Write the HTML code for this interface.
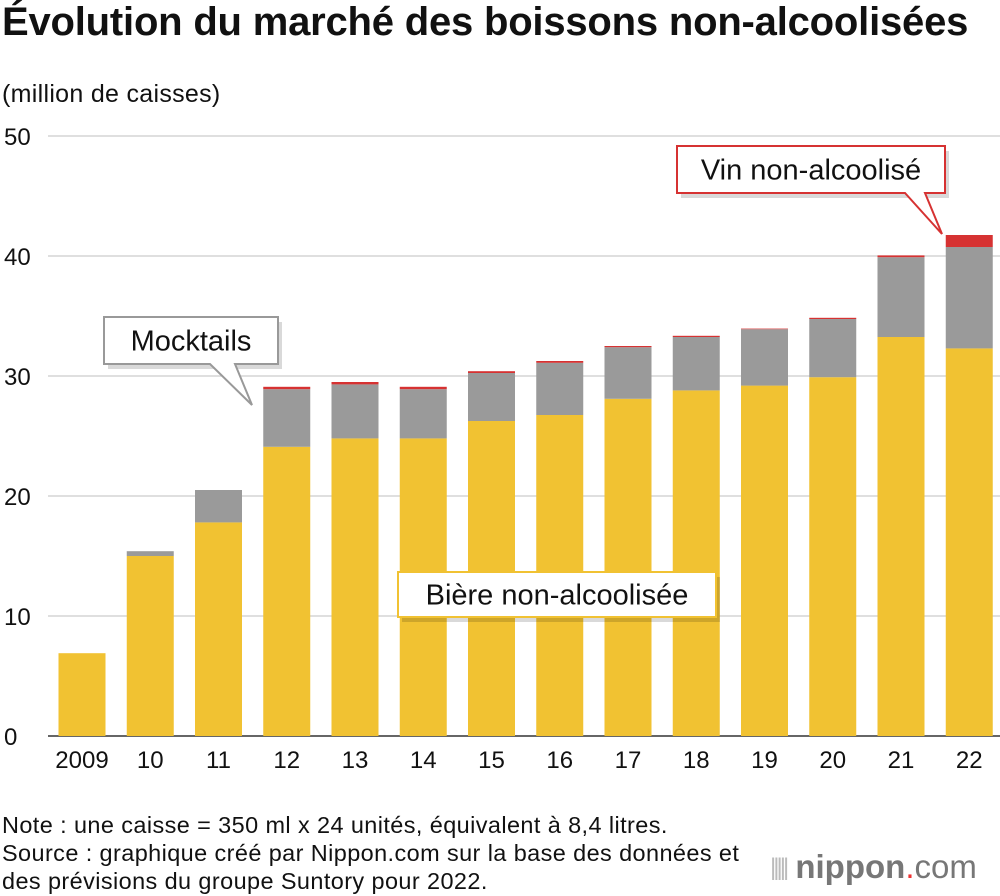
<!DOCTYPE html>
<html><head><meta charset="utf-8"><style>
body{margin:0;background:#fff;font-family:"Liberation Sans",sans-serif;}
#w{position:relative;width:1000px;height:896px;overflow:hidden;}
.t{position:absolute;white-space:nowrap;color:#111;}
</style></head><body><div id="w">
<div class="t" style="left:2px;top:0px;font-size:40px;font-weight:bold;letter-spacing:-0.2px">Évolution du marché des boissons non-alcoolisées</div>
<div class="t" style="left:2px;top:80px;font-size:25px;letter-spacing:0.3px">(million de caisses)</div>
<svg id="c" width="1000" height="896" style="position:absolute;left:0;top:0"></svg>
<div class="t" style="left:2px;top:811px;font-size:23px;line-height:28px;letter-spacing:0.4px;transform:scaleX(1.02);transform-origin:0 0">Note : une caisse = 350 ml x 24 unités, équivalent à 8,4 litres.<br>Source : graphique créé par Nippon.com sur la base des données et<br>des prévisions du groupe Suntory pour 2022.</div>
<div class="t" style="left:770px;top:848px;font-size:33px;color:#777;"><span style="color:#bbb;font-size:24px;letter-spacing:-3px;vertical-align:3px">|||||</span> <b>nippon</b><span style="color:#e33">.</span>com</div>
</div>
<script>
const categories=["2009","10","11","12","13","14","15","16","17","18","19","20","21","22"];
const beer=[6.9,15.0,17.8,24.1,24.8,24.8,26.25,26.75,28.1,28.8,29.2,29.9,33.25,32.3];
const mocktails=[0,0.4,2.7,4.8,4.5,4.1,4.0,4.35,4.3,4.45,4.7,4.85,6.65,8.45];
const wine=[0,0,0,0.2,0.2,0.2,0.15,0.15,0.1,0.1,0.05,0.1,0.15,1.0];
const yTicks=[0,10,20,30,40,50];
const NS="http://www.w3.org/2000/svg";
const svg=document.getElementById('c');
const y=v=>736-v*12;
const x=i=>82+i*68.25;
function el(t,a,p){const e=document.createElementNS(NS,t);for(const k in a)e.setAttribute(k,a[k]);(p||svg).appendChild(e);return e;}
yTicks.forEach(v=>{
 const l=el('line',{x1:48,x2:1000,y1:y(v),y2:y(v),stroke:v===0?'#333':'#ccc','stroke-width':v===0?1.5:1.2});
 
 
 const t=el('text',{x:4,y:y(v)+9,'font-size':24,fill:'#111'});t.textContent=v;
 
 
});
categories.forEach((c,i)=>{
 const segs=[[beer[i],'#f1c232',0],[mocktails[i],'#9a9a9a',beer[i]],[wine[i],'#d63232',beer[i]+mocktails[i]]];
 segs.forEach((s,k)=>{
  if(s[0]<=0)return;
  const r=el('rect',{x:x(i)-23.5,width:47,y:y(s[2]+s[0]),height:s[0]*12,fill:s[1]});
  
  
 });
 const t=el('text',{x:x(i),y:768,'font-size':24,'text-anchor':'middle',fill:'#111'});t.textContent=c;
 
 
});
function callout(name,bx,by,bw,bh,stroke,txt,tail){
 const g=el('g',{});
 
 
 el('rect',{x:bx+4,y:by+5,width:bw,height:bh,fill:'#000',opacity:0.15},g);
 let p;
 if(tail){p=`M${bx},${by}H${bx+bw}V${by+bh}H${tail[1]}L${tail[2]},${tail[3]}L${tail[0]},${by+bh}H${bx}Z`;}
 else p=`M${bx},${by}H${bx+bw}V${by+bh}H${bx}Z`;
 el('path',{d:p,fill:'#fff',stroke:stroke,'stroke-width':2},g);
 const t=el('text',{x:bx+bw/2,y:by+bh/2+10,'font-size':29,'text-anchor':'middle',fill:'#111'},g);t.textContent=txt;
}
callout('legend-wine',677,146,268,47,'#d63232','Vin non-alcoolisé',[905,925,942,234]);
callout('legend-mocktails',104,317,174,47,'#999','Mocktails',[210,235,252,405]);
callout('legend-beer',398,572,318,45,'#f1c232','Bière non-alcoolisée',null);
</script></body></html>
